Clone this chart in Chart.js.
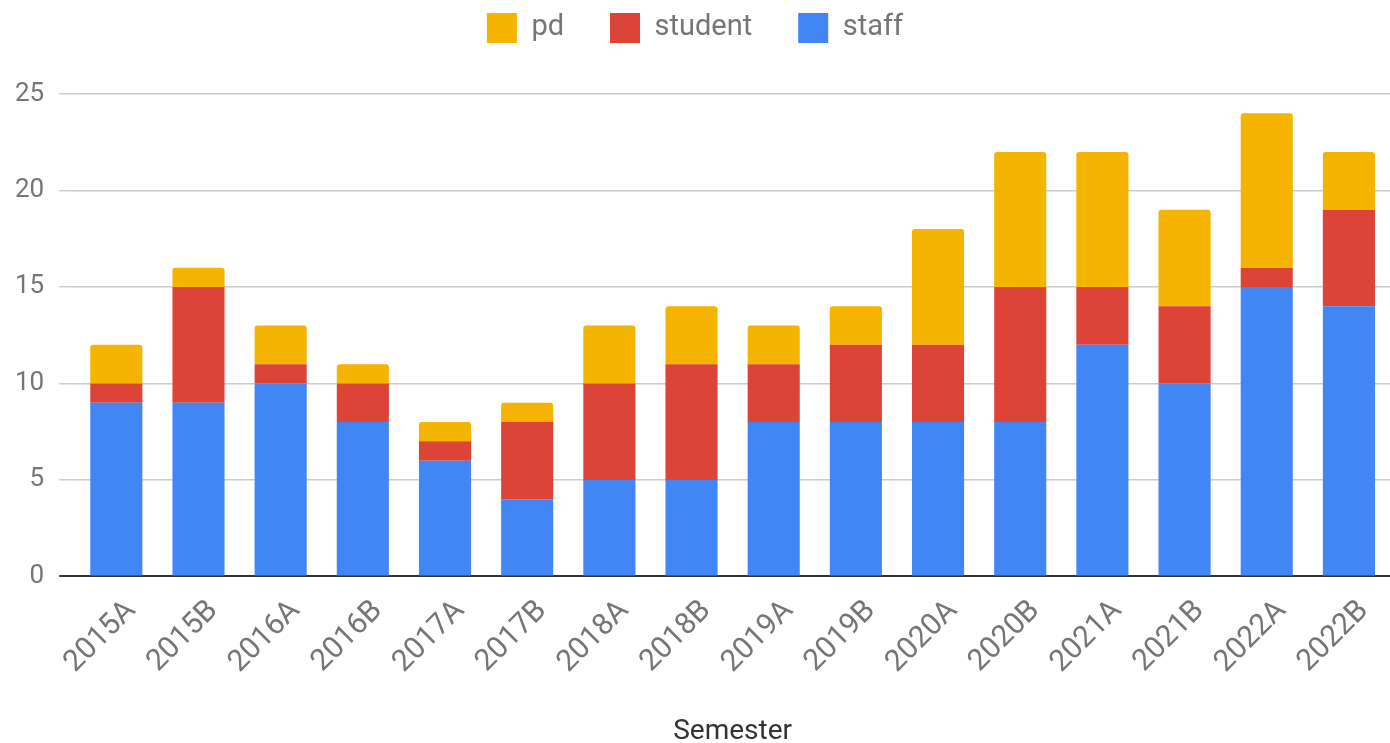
<!DOCTYPE html>
<html>
<head>
<meta charset="utf-8">
<script src="https://cdn.jsdelivr.net/npm/chart.js@4"></script>
<style>
  html, body { margin: 0; padding: 0; background: #fff; }
  #wrap { width: 1390px; height: 743px; }
</style>
</head>
<body>
<div id="wrap"><canvas id="myChart" width="1390" height="743"></canvas></div>
<script>
// Semesters along the x axis
const semesters = ["2015A", "2015B", "2016A", "2016B", "2017A", "2017B", "2018A", "2018B",
	"2019A", "2019B", "2020A", "2020B", "2021A", "2021B", "2022A", "2022B"];

// Stacked counts (staff at the bottom, pd on top)
const staff   = [9, 9, 10, 8, 6, 4, 5, 5, 8, 8, 8, 8, 12, 10, 15, 14];
const student = [1, 6, 1, 2, 1, 4, 5, 6, 3, 4, 4, 7, 3, 4, 1, 5];
const pd      = [2, 1, 2, 1, 1, 1, 3, 3, 2, 2, 6, 7, 7, 5, 8, 3];

const yTicks = [0, 5, 10, 15, 20, 25];

const grey = '#757575';
Chart.defaults.font.family = 'Roboto, "Noto Sans", sans-serif';

// Legend sits high but the plot starts lower down, so pin the legend box height
const legendHeight = {
	id: 'legendHeight',
	beforeInit: function(chart) {
		const fit = chart.legend.fit;
		chart.legend.fit = function() {
			fit.bind(chart.legend)();
			this.height = 127;
		};
	}
};

const ctx = document.getElementById("myChart").getContext('2d');
const myChart = new Chart(ctx, {
	type: 'bar',
	data: {
		labels: semesters,
		datasets: [{
			label: 'staff',
			data: staff,
			backgroundColor: '#4285F4'
		}, {
			label: 'student',
			data: student,
			backgroundColor: '#DB4437'
		}, {
			label: 'pd',
			data: pd,
			backgroundColor: '#F4B400',
			borderRadius: {topLeft: 3, topRight: 3, bottomLeft: 0, bottomRight: 0},
			borderSkipped: false
		}]
	},
	plugins: [legendHeight],
	options: {
		responsive: false,
		animation: false,
		categoryPercentage: 1,
		barPercentage: 0.634,
		layout: {
			padding: {top: -33, right: 0, bottom: -6, left: 0}
		},
		plugins: {
			tooltip: {enabled: false},
			legend: {
				reverse: true,
				labels: {
					color: grey,
					font: {size: 29},
					boxWidth: 30,
					boxHeight: 30,
					padding: 46
				}
			}
		},
		scales: {
			x: {
				stacked: true,
				grid: {display: false},
				border: {display: false},
				ticks: {
					color: grey,
					font: {size: 30},
					minRotation: 45,
					maxRotation: 45,
					labelOffset: 15,
					padding: 9
				},
				title: {
					display: true,
					text: 'Semester',
					color: '#333',
					font: {size: 28},
					padding: {top: 26, bottom: 0}
				}
			},
			y: {
				stacked: true,
				min: 0,
				max: 25,
				afterBuildTicks: function(axis) {
					axis.ticks = yTicks.map(function(v) { return {value: v}; });
				},
				border: {display: false},
				grid: {
					color: function(c) { return c.tick && c.tick.value === 0 ? '#333' : '#cccccc'; },
					lineWidth: function(c) { return c.tick && c.tick.value === 0 ? 2 : 1.5; },
					tickLength: 16
				},
				ticks: {
					color: grey,
					font: {size: 26},
					padding: 15
				}
			}
		}
	}
});
</script>
</body>
</html>
